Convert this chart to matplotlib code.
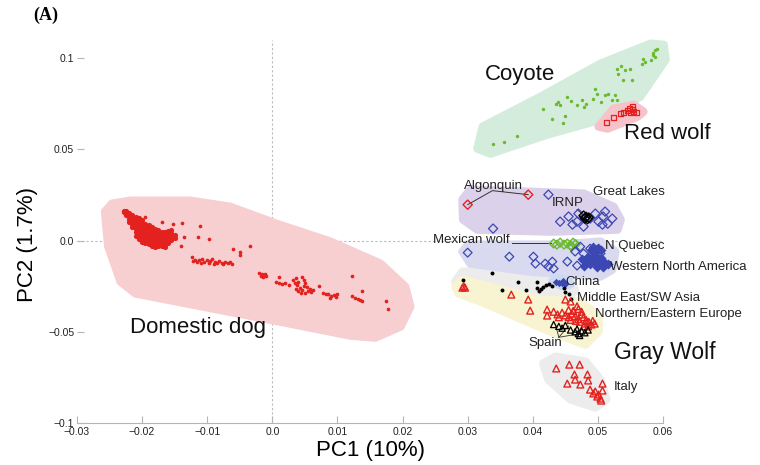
import numpy as np
import matplotlib.pyplot as plt
from matplotlib.patches import Polygon

plt.rcParams['font.family'] = ['Liberation Sans', 'DejaVu Sans']

# ---- point data (PC1, PC2) ----
dog_blob = [
    (-0.0228, 0.0165), (-0.0228, 0.0158), (-0.0224, 0.0160), (-0.0224, 0.0150), (-0.0224, 0.0140),
    (-0.0220, 0.0150), (-0.0220, 0.0135), (-0.0220, 0.0120), (-0.0220, 0.0100),
    (-0.0215, 0.0140), (-0.0215, 0.0125), (-0.0215, 0.0110), (-0.0215, 0.0092), (-0.0215, 0.0075),
    (-0.0210, 0.0130), (-0.0210, 0.0115), (-0.0210, 0.0100), (-0.0210, 0.0082), (-0.0210, 0.0065),
    (-0.0210, 0.0045), (-0.0210, 0.0028),
    (-0.0205, 0.0125), (-0.0205, 0.0108), (-0.0205, 0.0090), (-0.0205, 0.0072), (-0.0205, 0.0055),
    (-0.0205, 0.0038), (-0.0205, 0.0020), (-0.0205, 0.0008),
    (-0.0200, 0.0112), (-0.0200, 0.0095), (-0.0200, 0.0078), (-0.0200, 0.0060), (-0.0200, 0.0042),
    (-0.0200, 0.0025), (-0.0200, 0.0008), (-0.0200, -0.0008),
    (-0.0195, 0.0092), (-0.0195, 0.0075), (-0.0195, 0.0058), (-0.0195, 0.0040), (-0.0195, 0.0022),
    (-0.0195, 0.0005), (-0.0195, -0.0015),
    (-0.0190, 0.0085), (-0.0190, 0.0068), (-0.0190, 0.0050), (-0.0190, 0.0032), (-0.0190, 0.0015),
    (-0.0190, -0.0002), (-0.0190, -0.0020),
    (-0.0185, 0.0075), (-0.0185, 0.0058), (-0.0185, 0.0040), (-0.0185, 0.0022), (-0.0185, 0.0005),
    (-0.0185, -0.0012), (-0.0185, -0.0030),
    (-0.0180, 0.0066), (-0.0180, 0.0048), (-0.0180, 0.0030), (-0.0180, 0.0012), (-0.0180, -0.0005),
    (-0.0180, -0.0022), (-0.0180, -0.0035),
    (-0.0175, 0.0058), (-0.0175, 0.0040), (-0.0175, 0.0022), (-0.0175, 0.0005), (-0.0175, -0.0012),
    (-0.0175, -0.0030),
    (-0.0170, 0.0050), (-0.0170, 0.0032), (-0.0170, 0.0015), (-0.0170, -0.0002), (-0.0170, -0.0018),
    (-0.0170, -0.0032),
    (-0.0165, 0.0048), (-0.0165, 0.0030), (-0.0165, 0.0012), (-0.0165, -0.0005), (-0.0165, -0.0020),
    (-0.0165, -0.0033),
    (-0.0160, 0.0055), (-0.0160, 0.0038), (-0.0160, 0.0020), (-0.0160, 0.0002), (-0.0160, -0.0015),
    (-0.0155, 0.0058), (-0.0155, 0.0040), (-0.0155, 0.0022), (-0.0155, 0.0005),
    (-0.0150, 0.0030), (-0.0150, 0.0012),
]
dog_scatter = [
    (-0.0195, 0.0132), (-0.0169, 0.0104), (-0.0152, 0.0093), (-0.0138, 0.0099), (-0.0111, 0.0082),
    (-0.0114, 0.0022), (-0.0098, 0.0011), (-0.0135, 0.0022), (-0.0140, -0.0027), (-0.0061, -0.0044),
    (-0.0049, -0.0060), (-0.0049, -0.0077), (-0.0034, -0.0027),
    (-0.0124, -0.0090), (-0.0122, -0.0110), (-0.0118, -0.0105), (-0.0115, -0.0118), (-0.0112, -0.0108),
    (-0.0108, -0.0100), (-0.0105, -0.0115), (-0.0100, -0.0108), (-0.0098, -0.0122), (-0.0095, -0.0112),
    (-0.0092, -0.0100), (-0.0088, -0.0118), (-0.0085, -0.0125), (-0.0082, -0.0112), (-0.0078, -0.0120),
    (-0.0075, -0.0128), (-0.0072, -0.0115), (-0.0068, -0.0125), (-0.0065, -0.0118), (-0.0062, -0.0128),
    (-0.0110, -0.0125), (-0.0090, -0.0130),
    (-0.0020, -0.0180), (-0.0016, -0.0185), (-0.0012, -0.0182), (-0.0018, -0.0192), (-0.0010, -0.0195),
    (-0.0014, -0.0200), (0.0011, -0.0197),
    (0.0005, -0.0225), (0.0010, -0.0235), (0.0015, -0.0240), (0.0020, -0.0232), (0.0025, -0.0245),
    (0.0032, -0.0215), (0.0036, -0.0205), (0.0040, -0.0225), (0.0045, -0.0200), (0.0048, -0.0215),
    (0.0050, -0.0230), (0.0038, -0.0245), (0.0042, -0.0260), (0.0046, -0.0270), (0.0050, -0.0285),
    (0.0055, -0.0275), (0.0053, -0.0255), (0.0058, -0.0265), (0.0044, -0.0285), (0.0040, -0.0275),
    (0.0036, -0.0265), (0.0048, -0.0250), (0.0060, -0.0280), (0.0035, -0.0230),
    (0.0071, -0.0247), (0.0063, -0.0268),
    (0.0078, -0.0285), (0.0082, -0.0295), (0.0086, -0.0290), (0.0090, -0.0305), (0.0094, -0.0300),
    (0.0098, -0.0310), (0.0088, -0.0315), (0.0100, -0.0290),
    (0.0123, -0.0192), (0.0137, -0.0274),
    (0.0123, -0.0305), (0.0127, -0.0315), (0.0131, -0.0320), (0.0135, -0.0325), (0.0138, -0.0330),
    (0.0175, -0.0329), (0.0178, -0.0373),
]
coyote = [
    (0.0339, 0.0532), (0.0356, 0.0543), (0.0376, 0.0575), (0.0415, 0.0723), (0.0430, 0.0669),
    (0.0449, 0.0685), (0.0447, 0.0647), (0.0435, 0.0751), (0.0439, 0.0762), (0.0442, 0.0745),
    (0.0453, 0.0789), (0.0458, 0.0767), (0.0468, 0.0745), (0.0476, 0.0773), (0.0478, 0.0734),
    (0.0481, 0.0751), (0.0492, 0.0778), (0.0496, 0.0833), (0.0499, 0.0806), (0.0505, 0.0762),
    (0.0511, 0.0800), (0.0515, 0.0806), (0.0522, 0.0773), (0.0527, 0.0800), (0.0530, 0.0773),
    (0.0530, 0.0943), (0.0531, 0.0915), (0.0535, 0.0959), (0.0542, 0.0937), (0.0550, 0.0943),
    (0.0538, 0.0882), (0.0553, 0.0882), (0.0568, 0.0970), (0.0573, 0.0981), (0.0570, 0.0997),
    (0.0584, 0.1019), (0.0588, 0.1047), (0.0591, 0.1052), (0.0585, 0.1030), (0.0581, 0.0992),
    (0.0587, 0.1008),
]
red_wolf = [
    (0.0513, 0.0647), (0.0524, 0.0674), (0.0535, 0.0696), (0.0539, 0.0701), (0.0545, 0.0712),
    (0.0548, 0.0723), (0.0553, 0.0734), (0.0555, 0.0707), (0.0559, 0.0701), (0.0550, 0.0701),
    (0.0553, 0.0718),
]
algonquin = [(0.0300, 0.0197), (0.0393, 0.0252)]
great_lakes = [
    (0.0424, 0.0252), (0.0339, 0.0066), (0.0442, 0.0104), (0.0455, 0.0132), (0.0461, 0.0088),
    (0.0468, 0.0104), (0.0470, 0.0148), (0.0478, 0.0077), (0.0496, 0.0148), (0.0501, 0.0104),
    (0.0508, 0.0132), (0.0511, 0.0159), (0.0515, 0.0093), (0.0522, 0.0121), (0.0507, 0.0088),
    (0.0488, 0.0121),
]
irnp = [(0.0478, 0.0137), (0.0482, 0.0130), (0.0486, 0.0126), (0.0484, 0.0118), (0.0480, 0.0121)]
mexican_wolf = [
    (0.0432, -0.0016), (0.0437, -0.0022), (0.0442, -0.0011), (0.0448, -0.0022), (0.0453, -0.0016),
    (0.0458, -0.0027), (0.0462, -0.0011), (0.0466, -0.0020), (0.0460, -0.0033),
]
na_open = [
    (0.0300, -0.0066), (0.0364, -0.0088), (0.0401, -0.0088), (0.0404, -0.0126), (0.0419, -0.0126),
    (0.0424, -0.0142), (0.0430, -0.0115), (0.0432, -0.0153), (0.0453, -0.0115), (0.0468, -0.0137),
    (0.0465, -0.0060), (0.0478, -0.0071), (0.0488, -0.0044), (0.0493, -0.0060), (0.0501, -0.0044),
    (0.0504, -0.0071), (0.0473, -0.0033),
]
na_filled = [
    (0.0475, -0.0099), (0.0482, -0.0110), (0.0490, -0.0104), (0.0495, -0.0120), (0.0500, -0.0110),
    (0.0505, -0.0126), (0.0510, -0.0115), (0.0488, -0.0126), (0.0478, -0.0137), (0.0498, -0.0142),
    (0.0508, -0.0142), (0.0515, -0.0130), (0.0485, -0.0088), (0.0495, -0.0077), (0.0505, -0.0093),
    (0.0493, -0.0033), (0.0500, -0.0044), (0.0497, -0.0060), (0.0505, -0.0050), (0.0490, -0.0050),
]
china = [(0.0435, -0.0225), (0.0440, -0.0235), (0.0445, -0.0230), (0.0450, -0.0240), (0.0447, -0.0220)]
middle_east = [
    (0.0293, -0.0214), (0.0338, -0.0175), (0.0378, -0.0225), (0.0353, -0.0269), (0.0389, -0.0269),
    (0.0407, -0.0225), (0.0407, -0.0258), (0.0412, -0.0264), (0.0416, -0.0252), (0.0420, -0.0242),
    (0.0425, -0.0236), (0.0430, -0.0247), (0.0410, -0.0275), (0.0450, -0.0280), (0.0455, -0.0290),
    (0.0459, -0.0318), (0.0448, -0.0260),
]
europe = [
    (0.0292, -0.0258), (0.0296, -0.0258), (0.0294, -0.0250), (0.0367, -0.0296), (0.0393, -0.0323),
    (0.0396, -0.0384), (0.0422, -0.0378), (0.0422, -0.0411), (0.0450, -0.0323), (0.0458, -0.0334),
    (0.0432, -0.0390), (0.0438, -0.0405), (0.0445, -0.0395), (0.0450, -0.0410), (0.0455, -0.0420),
    (0.0460, -0.0400), (0.0465, -0.0415), (0.0470, -0.0430), (0.0475, -0.0405), (0.0478, -0.0420),
    (0.0482, -0.0435), (0.0486, -0.0445), (0.0490, -0.0460), (0.0485, -0.0470), (0.0480, -0.0455),
    (0.0472, -0.0445), (0.0466, -0.0440), (0.0458, -0.0435), (0.0462, -0.0385), (0.0470, -0.0375),
    (0.0468, -0.0360), (0.0475, -0.0390), (0.0455, -0.0380), (0.0440, -0.0420), (0.0492, -0.0440),
    (0.0495, -0.0455), (0.0478, -0.0470),
]
spain = [
    (0.0432, -0.0460), (0.0440, -0.0470), (0.0445, -0.0480), (0.0450, -0.0465), (0.0458, -0.0490),
    (0.0465, -0.0500), (0.0470, -0.0510), (0.0475, -0.0495), (0.0480, -0.0505), (0.0468, -0.0485),
    (0.0485, -0.0490), (0.0472, -0.0520),
]
italy = [
    (0.0436, -0.0701), (0.0456, -0.0680), (0.0472, -0.0680), (0.0464, -0.0734), (0.0484, -0.0734),
    (0.0453, -0.0784), (0.0465, -0.0762), (0.0473, -0.0789), (0.0485, -0.0767), (0.0507, -0.0784),
    (0.0488, -0.0817), (0.0496, -0.0827), (0.0501, -0.0844), (0.0504, -0.0866), (0.0499, -0.0855),
    (0.0505, -0.0877), (0.0493, -0.0838), (0.0507, -0.0822),
]

# ---- group outlines ----
hull_dog = [(-0.0257, 0.0159), (-0.0246, 0.0203), (-0.0218, 0.0219), (-0.0126, 0.0219),
            (-0.0065, 0.0186), (0.0006, 0.0093), (0.0089, -0.0005), (0.0166, -0.0126),
            (0.0204, -0.0252), (0.0212, -0.0362), (0.0197, -0.0471), (0.0158, -0.0532),
            (0.0120, -0.0521), (0.0006, -0.0440), (-0.0210, -0.0290), (-0.0233, -0.0225),
            (-0.0252, -0.0033)]
hull_coyote = [(0.0315, 0.0504), (0.0323, 0.0625), (0.0412, 0.0789), (0.0504, 0.0970),
               (0.0581, 0.1080), (0.0601, 0.1074), (0.0604, 0.0992), (0.0565, 0.0789),
               (0.0504, 0.0663), (0.0422, 0.0581), (0.0335, 0.0477)]
hull_red_wolf = [(0.0501, 0.0625), (0.0524, 0.0723), (0.0555, 0.0745), (0.0570, 0.0707),
                 (0.0561, 0.0680), (0.0515, 0.0614)]
hull_great_lakes = [(0.0292, 0.0225), (0.0304, 0.0279), (0.0478, 0.0258), (0.0524, 0.0186),
                    (0.0535, 0.0115), (0.0530, 0.0060), (0.0427, 0.0049), (0.0315, 0.0060),
                    (0.0293, 0.0115)]
hull_na = [(0.0292, -0.0060), (0.0301, -0.0022), (0.0442, -0.0022), (0.0504, -0.0005),
           (0.0527, -0.0060), (0.0522, -0.0159), (0.0504, -0.0197), (0.0396, -0.0170),
           (0.0304, -0.0126)]
hull_gray = [(0.0281, -0.0225), (0.0292, -0.0170), (0.0411, -0.0170), (0.0458, -0.0197),
             (0.0465, -0.0279), (0.0442, -0.0334), (0.0304, -0.0290)]
hull_china = [(0.0430, -0.0222), (0.0440, -0.0205), (0.0455, -0.0215), (0.0458, -0.0240),
              (0.0445, -0.0250)]
hull_yellow = [(0.0281, -0.0252), (0.0292, -0.0214), (0.0411, -0.0323), (0.0473, -0.0334),
               (0.0501, -0.0416), (0.0501, -0.0499), (0.0481, -0.0570), (0.0427, -0.0499),
               (0.0320, -0.0334), (0.0286, -0.0290)]
hull_italy = [(0.0416, -0.0674), (0.0435, -0.0636), (0.0481, -0.0663), (0.0504, -0.0762),
              (0.0513, -0.0871), (0.0496, -0.0915), (0.0458, -0.0871), (0.0424, -0.0762)]

RED = '#e3211f'
GREEN = '#6cb92f'
BLUE = '#3b48b3'


def xy(pts):
    a = np.array(pts)
    return a[:, 0], a[:, 1]


fig = plt.figure(figsize=(7.6, 4.65), dpi=100)
ax = fig.add_axes([0.1013, 0.0903, 0.7711, 0.8237])
ax.set_xlim(-0.03, 0.06)
ax.set_ylim(-0.1, 0.11)

for pts, col in [(hull_dog, '#f8cfd1'), (hull_coyote, '#d4ecdc'), (hull_red_wolf, '#f6c3cb'),
                 (hull_gray, '#ececec'), (hull_yellow, '#f8f3d0'), (hull_great_lakes, '#dcd1eb'),
                 (hull_na, '#d9d9f0'), (hull_china, '#cbd9f2'), (hull_italy, '#ececec')]:
    ax.add_patch(Polygon(pts, closed=True, facecolor=col, edgecolor=col, lw=6,
                         joinstyle='round', zorder=1, clip_on=False))

ax.axvline(0, color='#bbbbbb', lw=0.8, ls=(0, (2, 2)), zorder=0.5)
ax.axhline(0, color='#bbbbbb', lw=0.8, ls=(0, (2, 2)), zorder=0.5)

x, y = xy(dog_blob)
ax.scatter(x, y, s=14, color=RED, lw=0, zorder=3)
x, y = xy(dog_scatter)
ax.scatter(x, y, s=7, color=RED, lw=0, zorder=3)
x, y = xy(coyote)
ax.scatter(x, y, s=6, color=GREEN, lw=0, zorder=3, clip_on=False)
x, y = xy(red_wolf)
ax.scatter(x, y, s=14, marker='s', facecolor='none', edgecolor=RED, lw=0.9, zorder=3)
x, y = xy(algonquin)
ax.scatter(x, y, s=22, marker='D', facecolor='none', edgecolor=RED, lw=1.0, zorder=3)
x, y = xy(great_lakes)
ax.scatter(x, y, s=22, marker='D', facecolor='none', edgecolor=BLUE, lw=0.9, zorder=3)
x, y = xy(irnp)
ax.scatter(x, y, s=22, marker='D', facecolor='none', edgecolor='black', lw=1.0, zorder=3)
x, y = xy(mexican_wolf)
ax.scatter(x, y, s=20, marker='D', facecolor='none', edgecolor=GREEN, lw=1.0, zorder=3)
x, y = xy(na_open)
ax.scatter(x, y, s=20, marker='D', facecolor='none', edgecolor=BLUE, lw=0.9, zorder=3)
x, y = xy(na_filled)
ax.scatter(x, y, s=26, marker='D', color=BLUE, lw=0, zorder=3)
x, y = xy(china)
ax.scatter(x, y, s=14, marker='D', color=BLUE, lw=0, zorder=3)
x, y = xy(middle_east)
ax.scatter(x, y, s=8, color='black', lw=0, zorder=3)
x, y = xy(europe)
ax.scatter(x, y, s=24, marker='^', facecolor='none', edgecolor=RED, lw=1.0, zorder=3)
x, y = xy(spain)
ax.scatter(x, y, s=20, marker='^', facecolor='none', edgecolor='black', lw=0.9, zorder=4)
x, y = xy(italy)
ax.scatter(x, y, s=24, marker='^', facecolor='none', edgecolor=RED, lw=1.0, zorder=3)

# leader lines
ax.plot([0.0300, 0.0338, 0.0393], [0.0197, 0.0274, 0.0252], color='#333333', lw=0.7, zorder=2)
ax.plot([0.0468, 0.0481], [0.0170, 0.0132], color='#333333', lw=0.7, zorder=2)
ax.plot([0.0368, 0.0428], [-0.0014, -0.0014], color='#333333', lw=0.7, zorder=2)
for px, py in [(0.0435, -0.0462), (0.0455, -0.0468), (0.0476, -0.0508)]:
    ax.plot([0.0440, px], [-0.0530, py], color='#333333', lw=0.6, zorder=2)

# labels
big = dict(fontsize=16, color='#111111', zorder=5)
ax.text(0.0381, 0.0910, 'Coyote', ha='center', va='center', **big)
ax.text(0.0540, 0.0585, 'Red wolf', ha='left', va='center', **big)
ax.text(-0.0218, -0.0475, 'Domestic dog', ha='left', va='center', **big)
ax.text(0.0525, -0.0612, 'Gray Wolf', ha='left', va='center', fontsize=16.5, color='#111111', zorder=5)

small = dict(fontsize=9.5, color='#222222', zorder=5, clip_on=False)
ax.text(0.0340, 0.0300, 'Algonquin', ha='center', va='center', **small)
ax.text(0.0493, 0.0268, 'Great Lakes', ha='left', va='center', **small)
ax.text(0.0453, 0.0205, 'IRNP', ha='center', va='center', **small)
ax.text(0.0364, 0.0002, 'Mexican wolf', ha='right', va='center', **small)
ax.text(0.0511, -0.0030, 'N Quebec', ha='left', va='center', **small)
ax.text(0.0519, -0.0142, 'Western North America', ha='left', va='center', **small)
ax.text(0.0450, -0.0228, 'China', ha='left', va='center', **small)
ax.text(0.0468, -0.0312, 'Middle East/SW Asia', ha='left', va='center', **small)
ax.text(0.0496, -0.0400, 'Northern/Eastern Europe', ha='left', va='center', **small)
ax.text(0.0419, -0.0563, 'Spain', ha='center', va='center', **small)
ax.text(0.0525, -0.0800, 'Italy', ha='left', va='center', **small)

# axes styling
for s in ['top', 'right', 'left']:
    ax.spines[s].set_visible(False)
ax.spines['bottom'].set_bounds(-0.03, 0.06)
ax.spines['bottom'].set_color('#b5b5b5')
xt = [-0.03, -0.02, -0.01, 0.0, 0.01, 0.02, 0.03, 0.04, 0.05, 0.06]
xl = ['\u22120.03', '\u22120.02', '\u22120.01', '0.0', '0.01', '0.02', '0.03', '0.04', '0.05', '0.06']
yt = [-0.1, -0.05, 0.0, 0.05, 0.1]
yl = ['\u22120.1', '\u22120.05', '0.0', '0.05', '0.1']
ax.set_xticks(xt)
ax.set_xticklabels(xl)
ax.set_yticks(yt)
ax.set_yticklabels(yl)
ax.tick_params(axis='x', direction='in', length=5, color='#b5b5b5', labelsize=7.5, pad=3,
               labelcolor='#222222')
ax.tick_params(axis='y', direction='in', length=5, color='#b5b5b5', labelsize=7.5, pad=2,
               labelcolor='#222222')

fig.text(370 / 760, 1 - 450 / 465, 'PC1 (10%)', ha='center', va='center', fontsize=16)
fig.text(28 / 760, 1 - 245 / 465, 'PC2 (1.7%)', ha='center', va='center', fontsize=16, rotation=90)
fig.text(33 / 760, 1 - 15 / 465, '(A)', ha='left', va='center', fontsize=13, weight='bold',
         family=['Liberation Serif', 'DejaVu Serif'])

fig.savefig('out.png', dpi=100)
